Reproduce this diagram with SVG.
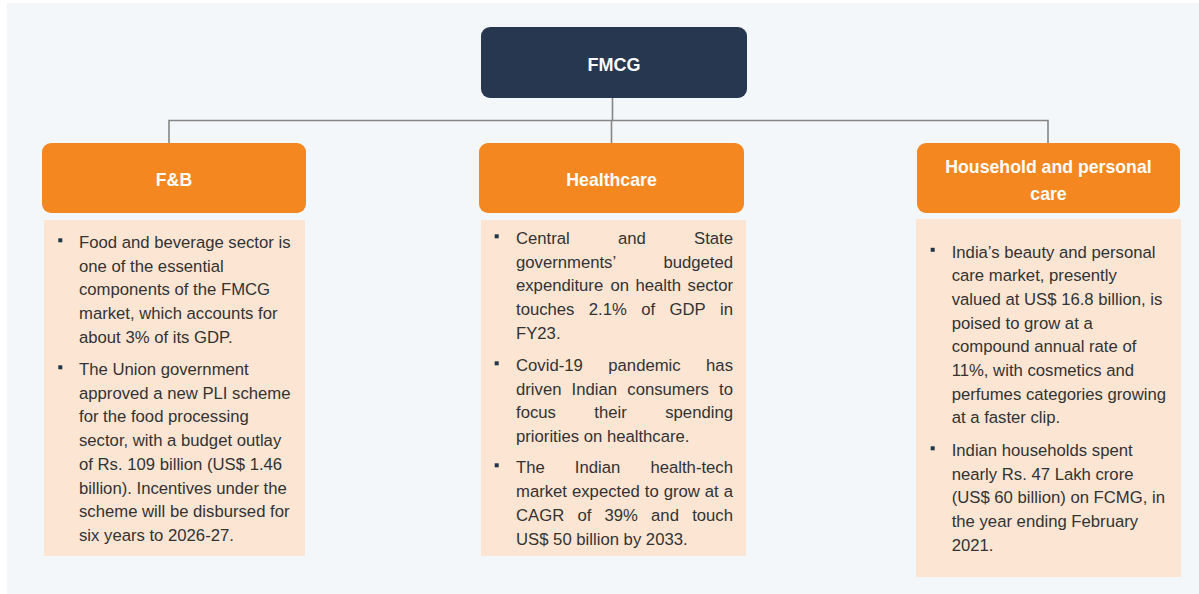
<svg xmlns="http://www.w3.org/2000/svg" width="1199" height="594" viewBox="0 0 1199 594">
<style>
.hdr{fill:#f58720}
.body{fill:#fde5d3}
.ht{font-family:"Liberation Sans",Arial,sans-serif;font-weight:bold;font-size:17.7px;fill:#ffffff;text-anchor:middle}
.bt{font-family:"Liberation Sans",Arial,sans-serif;font-size:16.7px;fill:#333333}
.e{text-anchor:end}
.bul{fill:#243447}
.con{fill:none;stroke:#858585;stroke-width:1.6}
</style>
<rect x="0" y="0" width="1199" height="594" fill="#ffffff"/>
<rect x="7" y="3" width="1192" height="591" fill="#f4f7f9"/>
<g id="connectors">
<path class="con" d="M612.5 98 V120.5 M169 143 V120.5 H1048 V146 M611.5 120.5 V143"/>
</g>
<g id="fmcg">
<rect x="481" y="27" width="266" height="71" rx="9" fill="#273750"/>
<text x="614" y="70.5" class="ht" style="font-size:18px">FMCG</text>
</g>
<g id="fb">
<rect class="hdr" x="42" y="143" width="264" height="70" rx="9"/>
<text x="174" y="186" class="ht">F&amp;B</text>
<rect class="body" x="44" y="220" width="261" height="336"/>
<rect class="bul" x="58.3" y="238.3" width="4" height="4"/>
<rect class="bul" x="58.3" y="365.3" width="4" height="4"/>
<text class="bt">
<tspan x="79" y="248">Food and beverage sector is</tspan>
<tspan x="79" dy="23.7">one of the essential</tspan>
<tspan x="79" dy="23.7">components of the FMCG</tspan>
<tspan x="79" dy="23.7">market, which accounts for</tspan>
<tspan x="79" dy="23.7">about 3% of its GDP.</tspan>
<tspan x="79" y="375">The Union government</tspan>
<tspan x="79" dy="23.7">approved a new PLI scheme</tspan>
<tspan x="79" dy="23.7">for the food processing</tspan>
<tspan x="79" dy="23.7">sector, with a budget outlay</tspan>
<tspan x="79" dy="23.7">of Rs. 109 billion (US$ 1.46</tspan>
<tspan x="79" dy="23.7">billion). Incentives under the</tspan>
<tspan x="79" dy="23.7">scheme will be disbursed for</tspan>
<tspan x="79" dy="23.7">six years to 2026-27.</tspan>
</text>
</g>
<g id="healthcare">
<rect class="hdr" x="479" y="143" width="265" height="70" rx="9"/>
<text x="611.5" y="186" class="ht">Healthcare</text>
<rect class="body" x="481" y="220" width="265" height="336"/>
<rect class="bul" x="494.7" y="234.3" width="4" height="4"/>
<rect class="bul" x="494.7" y="361.3" width="4" height="4"/>
<rect class="bul" x="494.7" y="463.3" width="4" height="4"/>
<g class="bt">
<text x="516" y="244">Central</text><text x="618" y="244">and</text><text class="e" x="733" y="244">State</text>
<text x="516" y="267.7">governments’</text><text class="e" x="733" y="267.7">budgeted</text>
<text x="516" y="291.4">expenditure</text><text x="610.5" y="291.4">on</text><text x="635.5" y="291.4">health</text><text class="e" x="733" y="291.4">sector</text>
<text x="516" y="315.1">touches</text><text x="588.8" y="315.1">2.1%</text><text x="641.2" y="315.1">of</text><text x="669.5" y="315.1">GDP</text><text class="e" x="733" y="315.1">in</text>
<text x="516" y="338.8">FY23.</text>
<text x="516" y="371">Covid-19</text><text x="608.3" y="371">pandemic</text><text class="e" x="733" y="371">has</text>
<text x="516" y="394.7">driven</text><text x="571.6" y="394.7">Indian</text><text x="627.3" y="394.7">consumers</text><text class="e" x="733" y="394.7">to</text>
<text x="516" y="418.4">focus</text><text x="594.3" y="418.4">their</text><text class="e" x="733" y="418.4">spending</text>
<text x="516" y="442.1">priorities on healthcare.</text>
<text x="516" y="473">The</text><text x="574.8" y="473">Indian</text><text class="e" x="733" y="473">health-tech</text>
<text x="516" y="496.9">market</text><text x="572" y="496.9">expected</text><text x="644.8" y="496.9">to</text><text x="663.7" y="496.9">grow</text><text x="704.8" y="496.9">at</text><text class="e" x="733" y="496.9">a</text>
<text x="516" y="520.8">CAGR</text><text x="577.4" y="520.8">of</text><text x="604.5" y="520.8">39%</text><text x="651.1" y="520.8">and</text><text class="e" x="733" y="520.8">touch</text>
<text x="516" y="544.7">US$ 50 billion by 2033.</text>
</g>
</g>
<g id="household">
<rect class="hdr" x="917" y="143" width="263" height="70" rx="9"/>
<text class="ht"><tspan x="1048.5" y="173.3">Household and personal</tspan><tspan x="1048.5" y="200.3">care</tspan></text>
<rect class="body" x="916" y="219" width="265" height="358"/>
<rect class="bul" x="930.7" y="247.8" width="4" height="4"/>
<rect class="bul" x="930.7" y="446.3" width="4" height="4"/>
<text class="bt">
<tspan x="951.7" y="257.5">India’s beauty and personal</tspan>
<tspan x="951.7" dy="23.7">care market, presently</tspan>
<tspan x="951.7" dy="23.7">valued at US$ 16.8 billion, is</tspan>
<tspan x="951.7" dy="23.7">poised to grow at a</tspan>
<tspan x="951.7" dy="23.7">compound annual rate of</tspan>
<tspan x="951.7" dy="23.7">11%, with cosmetics and</tspan>
<tspan x="951.7" dy="23.7">perfumes categories growing</tspan>
<tspan x="951.7" dy="23.7">at a faster clip.</tspan>
<tspan x="951.7" y="456">Indian households spent</tspan>
<tspan x="951.7" dy="23.7">nearly Rs. 47 Lakh crore</tspan>
<tspan x="951.7" dy="23.7">(US$ 60 billion) on FCMG, in</tspan>
<tspan x="951.7" dy="23.7">the year ending February</tspan>
<tspan x="951.7" dy="23.7">2021.</tspan>
</text>
</g>
</svg>
